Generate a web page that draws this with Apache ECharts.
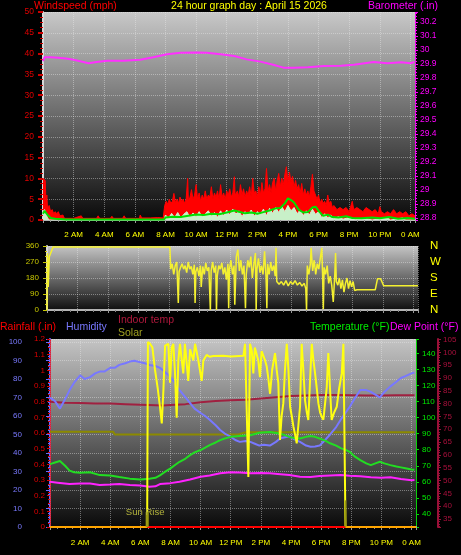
<!DOCTYPE html>
<html><head><meta charset="utf-8">
<script src="https://cdn.jsdelivr.net/npm/echarts@6/dist/echarts.min.js"></script>
<style>html,body{margin:0;padding:0;background:#000;}#c{width:461px;height:555px;}</style>
</head><body><div id="c"></div>
<script>
// ---------------- DATA ----------------
const timeTickHours = [2,4,6,8,10,12,14,16,18,20,22,24];
const timeTickLabels = ['2 AM','4 AM','6 AM','8 AM','10 AM','12 PM','2 PM','4 PM','6 PM','8 PM','10 PM','0 AM'];
const windTicks = [0,5,10,15,20,25,30,35,40,45,50];
const baroTicks = [28.8,28.9,29,29.1,29.2,29.3,29.4,29.5,29.6,29.7,29.8,29.9,30,30.1,30.2];
const dirTicks = [0,90,180,270,360];
const dirLetters = ['N','E','S','W','N'];
const humTicks = [0,10,20,30,40,50,60,70,80,90,100];
const rainTicks = [0,0.1,0.2,0.3,0.4,0.5,0.6,0.7,0.8,0.9,1,1.1,1.2];
const tempTicks = [40,50,60,70,80,90,100,110,120,130,140];
const indoorTicks = [35,40,45,50,55,60,65,70,75,80,85,90,95,100,105];

// [hour, mph]
const windGust = [[0,10],[0.08,10],[0.15,9.5],[0.2,3],[0.25,6],[0.3,2.5],[0.4,3.5],[0.5,2],[0.6,2.5],[0.7,1.5],[0.8,2],[0.9,1.5],[1.0,2],[1.1,1],[1.3,1.2],[1.4,0.4],[2.0,0.4],[2.5,1],[2.6,0.4],[3.5,0.4],[3.6,1],[3.7,0.4],[4.4,0.4],[4.5,0.9],[4.6,0.4],[5.2,0.4],[5.3,1],[5.4,0.4],[6.3,0.4],[6.35,1.2],[6.45,0.5],[7.0,0.5],[7.5,0.6],[7.85,0.5],[7.95,3.5],[8.05,4.5],[8.15,3.8],[8.25,5],[8.35,4],[8.45,4.5],[8.55,6.4],[8.65,4.2],[8.75,5],[8.85,4],[8.95,5.5],[9.05,4.5],[9.15,5],[9.25,4],[9.35,5],[9.45,10],[9.5,4.5],[9.6,5.5],[9.7,7.3],[9.8,5],[9.9,6],[10.0,8.5],[10.1,5],[10.2,6.5],[10.3,4.5],[10.4,6],[10.5,5],[10.6,7],[10.7,5],[10.8,6],[10.9,5.5],[11.0,8],[11.1,5],[11.2,6.5],[11.3,5.5],[11.4,7],[11.5,5],[11.6,8.5],[11.7,5.5],[11.8,6.5],[11.9,5],[12.0,7],[12.1,6],[12.2,7.5],[12.3,5.5],[12.4,6.5],[12.5,10.4],[12.55,6],[12.7,7],[12.8,5.5],[12.9,8.5],[13.0,6],[13.1,7.5],[13.2,5.5],[13.3,7],[13.4,6],[13.5,8],[13.6,5.5],[13.7,10],[13.8,6.5],[13.9,7],[14.0,5.5],[14.1,8],[14.2,6],[14.3,9],[14.4,6.5],[14.5,7.5],[14.6,12.4],[14.7,7],[14.8,8.5],[14.9,6.5],[15.0,9],[15.1,10],[15.2,7],[15.3,9.5],[15.4,11.2],[15.5,8],[15.6,10],[15.7,8.5],[15.8,11],[15.9,12.8],[16.0,9],[16.1,11.5],[16.2,9],[16.3,10.5],[16.4,8],[16.5,9.5],[16.6,7.5],[16.7,8.5],[16.8,6.5],[16.9,8.8],[17.0,6],[17.1,7.5],[17.2,6],[17.3,7],[17.4,5.5],[17.5,8],[17.6,11],[17.7,7],[17.8,6],[17.9,5],[18.0,6],[18.1,4],[18.2,5],[18.3,4],[18.4,4.5],[18.5,3.5],[18.6,6],[18.7,4],[18.8,4.5],[18.9,3],[19.0,3.5],[19.2,2.5],[19.4,3],[19.6,2.5],[19.8,3],[20.0,2],[20.2,4.5],[20.3,2.5],[20.5,3],[20.7,2.5],[20.9,2],[21.1,3],[21.3,2.5],[21.5,2],[21.7,2.5],[21.9,1.5],[22.0,3.2],[22.1,2],[22.3,1.5],[22.5,2],[22.7,1.5],[22.9,2.5],[23.1,1.5],[23.3,2],[23.5,1.5],[23.7,2],[23.9,1],[24.1,1.5],[24.3,1]];

const windSpeed = [[0,2],[0.1,2.5],[0.2,1.5],[0.3,0.5],[0.4,0],[7.9,0],[8.0,1.2],[8.2,0.4],[8.4,1.6],[8.6,0.6],[8.8,1.8],[9.0,0.5],[9.2,1.4],[9.4,2.0],[9.6,0.6],[9.8,1.7],[10.0,0.8],[10.2,2.0],[10.4,0.7],[10.6,1.5],[10.8,2.2],[11.0,0.9],[11.2,1.8],[11.4,0.6],[11.6,2.2],[11.8,1.0],[12.0,2.4],[12.2,1.2],[12.4,2.6],[12.6,1.4],[12.8,2.2],[13.0,0.8],[13.2,2.0],[13.4,1.2],[13.6,2.4],[13.8,0.9],[14.0,2.0],[14.2,1.4],[14.4,2.6],[14.6,1.0],[14.8,2.8],[15.0,1.6],[15.2,3.0],[15.4,1.8],[15.6,3.2],[15.8,2.0],[16.0,3.5],[16.2,2.2],[16.4,3.0],[16.6,1.5],[16.8,2.4],[17.0,1.0],[17.2,2.2],[17.4,1.2],[17.6,2.6],[17.8,1.4],[18.0,2.0],[18.2,0.6],[18.4,1.5],[18.6,0.5],[18.8,1.2],[19.0,0.3],[19.3,0.8],[19.6,0.2],[20.0,0.6],[20.4,0.1],[21.0,0.4],[21.5,0],[22.5,0.6],[22.7,0],[23.5,0.5],[23.7,0],[24.3,0]];

const windAvg = [[0,1.5],[0.1,2.2],[0.2,2],[0.3,1.2],[0.5,0.5],[0.8,0.3],[1.5,0.1],[7.9,0.1],[8.0,0.6],[8.5,0.8],[9.0,0.7],[9.5,1.0],[10.0,1.3],[10.5,1.2],[11.0,1.5],[11.5,1.4],[12.0,1.8],[12.5,2.3],[12.8,2.0],[13.2,1.6],[13.6,1.8],[14.0,1.5],[14.4,1.9],[14.8,2.3],[15.2,2.8],[15.5,2.9],[15.8,4.0],[16.0,5.2],[16.2,4.8],[16.4,4.2],[16.7,2.5],[17.0,1.8],[17.3,1.9],[17.6,3.0],[17.8,3.2],[18.0,2.2],[18.3,1.0],[18.6,1.3],[18.9,0.7],[19.3,0.6],[19.8,0.9],[20.2,0.5],[20.8,0.4],[21.5,0.6],[22.0,0.4],[22.6,0.7],[23.2,0.3],[23.8,0.5],[24.3,0.3]];

// [hour, inHg]
const barometer = [[0,29.92],[0.1,29.948],[0.5,29.948],[1.0,29.945],[1.5,29.94],[2.0,29.93],[2.5,29.918],[2.97,29.905],[3.5,29.915],[4.2,29.924],[5.26,29.924],[6.35,29.93],[7.2,29.948],[8.1,29.97],[9.0,29.98],[10.06,29.983],[10.7,29.98],[11.6,29.97],[12.5,29.957],[13.3,29.933],[14.2,29.917],[15.1,29.893],[15.7,29.874],[16.4,29.874],[17.3,29.876],[18.36,29.886],[19.45,29.888],[20.3,29.895],[21.6,29.914],[22.5,29.905],[23.4,29.912],[24.0,29.905],[24.25,29.914]];

// [hour, degrees]
const windDir = [[0,0],[0.03,320],[0.08,130],[0.15,300],[0.25,290],[0.4,355],[8.05,355],[8.1,230],[8.2,260],[8.3,200],[8.4,250],[8.5,270],[8.6,40],[8.65,215],[8.75,240],[8.85,260],[8.95,230],[9.05,250],[9.15,210],[9.25,270],[9.35,230],[9.45,245],[9.55,200],[9.65,255],[9.7,40],[9.75,215],[9.85,240],[9.95,190],[10.05,250],[10.1,130],[10.2,245],[10.3,200],[10.4,265],[10.5,220],[10.6,240],[10.7,0],[10.75,220],[10.85,270],[10.95,210],[11.05,250],[11.1,0],[11.15,190],[11.25,250],[11.35,230],[11.45,265],[11.55,200],[11.65,240],[11.75,170],[11.85,260],[11.9,10],[11.95,230],[12.05,280],[12.15,200],[12.25,250],[12.3,30],[12.4,300],[12.5,340],[12.6,220],[12.7,280],[12.8,200],[12.9,250],[13.0,10],[13.05,200],[13.15,280],[13.25,240],[13.35,300],[13.45,180],[13.55,260],[13.65,320],[13.7,0],[13.75,230],[13.85,290],[13.95,210],[14.05,250],[14.15,200],[14.25,330],[14.35,180],[14.4,10],[14.45,260],[14.55,200],[14.65,270],[14.75,220],[14.85,250],[14.95,190],[15.0,350],[15.05,160],[15.2,145],[15.35,160],[15.5,140],[15.65,165],[15.8,135],[15.95,160],[16.1,145],[16.25,165],[16.4,140],[16.55,155],[16.7,135],[16.85,150],[16.95,120],[17.0,0],[17.05,250],[17.15,200],[17.25,260],[17.3,350],[17.4,220],[17.5,280],[17.6,200],[17.7,260],[17.8,230],[17.9,290],[18.0,350],[18.05,200],[18.1,5],[18.15,240],[18.25,200],[18.35,250],[18.45,150],[18.55,190],[18.65,140],[18.75,45],[18.85,200],[18.9,320],[18.95,160],[19.05,140],[19.15,180],[19.25,120],[19.35,170],[19.45,100],[19.55,150],[19.65,180],[19.75,120],[19.85,165],[19.95,130],[20.05,160],[20.15,110],[20.3,114],[21.5,114],[21.65,176],[21.85,176],[22.05,136],[24.3,136]];

// [hour, %]
const humidity = [[0,70],[0.33,68],[0.66,64],[1.0,69],[1.3,74],[1.6,78],[2.0,82],[2.3,80],[2.66,81],[3.0,83],[3.3,84],[3.6,84],[4.0,86],[4.3,86],[4.6,87.6],[5.0,88.5],[5.3,89.4],[5.6,89.8],[6.0,89],[6.3,88.5],[6.6,87.6],[7.0,87],[7.3,86],[7.6,84],[8.0,81],[8.3,78],[8.6,74],[9.0,70],[9.3,67],[9.6,64],[10,61.6],[10.3,60],[10.6,58],[11.0,55],[11.3,52.4],[11.6,50.5],[12.0,48.8],[12.3,47],[12.6,46],[13.0,46.5],[13.3,46],[13.6,45],[13.9,44],[14.2,44.5],[14.6,44],[15.0,46],[15.3,48],[15.6,48.5],[15.9,49],[16.2,47.5],[16.6,46],[17.0,44],[17.3,43.4],[17.6,43.5],[17.9,44],[18.2,46.5],[18.6,50],[19.0,54],[19.3,58],[19.6,61.5],[19.9,65],[20.2,69],[20.6,74],[21.0,74],[21.3,73],[21.6,71.5],[21.9,70],[22.2,73],[22.6,76],[23.0,78.5],[23.3,80.5],[23.6,81.5],[24.0,83],[24.2,83.5]];

// [hour, °F]
const temperature = [[0,71],[0.33,72],[0.66,73],[1.0,70],[1.3,67],[1.6,66],[2.0,65.7],[2.66,66],[3.3,64.2],[4.0,64],[4.6,63],[5.3,62],[6.0,61.5],[6.6,62],[7.0,62.5],[7.3,64],[7.6,66],[8.0,68.4],[8.3,70.5],[8.6,72.5],[9.0,74.5],[9.3,76.6],[9.6,78.3],[10,79.8],[10.3,81.3],[10.6,82.9],[11,84.5],[11.3,86],[11.6,87],[12,88],[12.6,88.5],[13.3,89],[13.9,90.5],[14.6,91],[15.3,90],[15.9,88],[16.3,87],[16.6,87],[17.0,88],[17.3,88.5],[17.6,88],[17.9,87],[18.3,85.5],[18.6,84],[19.0,82.5],[19.3,81],[19.6,80],[19.9,78.7],[20.2,76],[20.6,73.5],[21.0,71.5],[21.3,70.4],[21.6,71.5],[21.9,72.5],[22.2,71.5],[22.6,70.4],[23.0,69.5],[23.3,69],[23.6,68.5],[24.0,67.7],[24.2,67.5]];

const dewPoint = [[0,60],[0.5,59.5],[1.3,58.6],[2.0,59],[2.66,59],[3.3,58],[4.0,58.3],[4.6,58.6],[5.3,58],[6.0,57.7],[6.6,57],[7.0,57.2],[7.3,58.6],[8.0,59.2],[8.6,60],[9.3,61.5],[10,63.2],[10.6,64],[11.3,65.3],[12,66],[12.6,65.8],[13.3,65.3],[14.0,65.5],[14.6,65.3],[15.3,64.8],[15.9,64.2],[16.6,63.2],[17.3,63],[17.9,63.6],[18.6,64],[19.3,64.2],[19.9,63.8],[20.6,63.5],[21.3,62.8],[22.0,62.5],[22.6,62.8],[23.3,61.8],[24.0,61],[24.2,61.2]];

const indoorTemp = [[0,80.7],[1,80.3],[2,80.2],[3,80],[4,80],[5,79.8],[6,79.6],[7,79.4],[7.5,79.3],[8,79.5],[9,79.8],[10,80.5],[11,81],[12,81.3],[13,81.5],[14,82],[15,82.5],[16,83],[17,83.2],[18,83.4],[19,83.4],[20,83.3],[21,83.2],[22,83.2],[23,83.3],[24.2,83.3]];

const oliveLine = [[0,69],[4.2,69],[4.3,68],[12.5,68],[13,68.8],[24.2,68.8]];

// solar, in % of panel height
const solar = [[0,0],[6.45,0],[6.5,100],[6.64,99],[6.8,97],[6.97,85],[7.15,75],[7.30,65],[7.42,56],[7.53,74],[7.64,98],[7.86,99],[7.97,78],[8.08,97],[8.19,99],[8.30,83],[8.41,59],[8.52,90],[8.63,99],[8.75,90],[8.85,83],[8.96,99],[9.18,79],[9.30,96],[9.52,90],[9.63,99],[9.85,90],[10.07,79],[10.18,90],[10.40,93],[10.6,92],[10.85,92.4],[11.5,92.5],[12,92.2],[12.84,92.5],[12.95,99],[13.05,99],[13.17,27],[13.28,99],[13.4,95],[13.50,83],[13.6,97],[13.72,97.5],[13.83,90],[13.94,81],[14.05,95],[14.17,95.7],[14.28,90],[14.39,86.7],[14.5,80],[14.61,72],[14.75,85],[14.94,94],[15.05,85],[15.16,77.7],[15.27,47],[15.38,60],[15.49,66.8],[15.6,85],[15.72,99],[15.83,85],[15.94,65],[16.05,60],[16.16,54.3],[16.27,50],[16.38,45.2],[16.49,55],[16.60,65],[16.71,99],[16.82,85],[16.93,68.6],[17.05,62],[17.15,57.8],[17.27,80],[17.38,99],[17.49,90],[17.60,83],[17.71,75],[17.82,66.8],[17.93,62],[18.04,59.6],[18.15,58],[18.26,57.8],[18.37,75],[18.48,94],[18.59,75],[18.70,57.8],[18.87,62],[19.04,65],[19.2,75],[19.37,83],[19.48,99],[19.59,99],[19.62,0],[24.2,0]];

const rainfall = [[0,0],[24.3,0]];
const sunriseHour = 6.45;
const sunsetHour = 19.62;

// ---------------- CHART ----------------
const FONT = '"Liberation Sans", Arial, sans-serif';
const chart = echarts.init(document.getElementById('c'), null, {renderer: 'canvas', width: 461, height: 555});
const grad = (a, b) => new echarts.graphic.LinearGradient(0, 0, 0, 1, [{offset: 0, color: a}, {offset: 1, color: b}]);
const fmtList = list => v => { for (const t of list) if (Math.abs(v - t) < 1e-6) return String(t); return ''; };
const hourFmt = v => { const i = timeTickHours.findIndex(h => Math.abs(h - v) < 1e-6); return i < 0 ? '' : timeTickLabels[i]; };
const gridLine = {show: true, lineStyle: {color: 'rgba(235,235,235,0.42)', type: 'dotted', width: 1}};

function xAx(gi, showLabel, margin) {
  return {
    type: 'value', gridIndex: gi, min: 0, max: 24.3, interval: 2,
    axisLine: {show: true, onZero: false, lineStyle: {color: '#b4b4b4', width: 2}},
    axisTick: {show: true, length: 3, lineStyle: {color: '#9a9a9a'}},
    minorTick: {show: true, splitNumber: 4, length: 2, lineStyle: {color: '#888'}},
    axisLabel: {show: showLabel, color: '#ffff00', fontSize: 8, fontFamily: FONT, margin: margin, formatter: hourFmt, hideOverlap: false, showMinLabel: true, showMaxLabel: true},
    splitLine: gridLine
  };
}
function lbl(color, margin, list, size) {
  return {show: true, color: color, fontSize: size || 8, fontFamily: FONT, margin: margin, formatter: fmtList(list), hideOverlap: false, showMinLabel: true, showMaxLabel: true};
}

const option = {
  backgroundColor: '#000',
  animation: false,
  grid: [
    {left: 43, right: 46, top: 12, height: 208, show: true, borderWidth: 0, backgroundColor: grad('#c8c8c8', '#0a0a0a'), outerBoundsMode: 'none'},
    {left: 47, right: 43, top: 246, height: 64, show: true, borderWidth: 0, backgroundColor: grad('#c4c4c4', '#101010'), outerBoundsMode: 'none'},
    {left: 50, right: 45, top: 339, height: 188, show: true, borderWidth: 0, backgroundColor: grad('#c4c4c4', '#0a0a0a'), outerBoundsMode: 'none'}
  ],
  xAxis: [xAx(0, true, 11), xAx(1, false, 8), xAx(2, true, 12)],
  yAxis: [
    { // 0 wind
      type: 'value', gridIndex: 0, position: 'left', min: 0, max: 50, interval: 5,
      axisLine: {show: true, lineStyle: {color: '#d8d8d8', width: 2}},
      axisTick: {show: true, length: 5, lineStyle: {color: '#cc0000', width: 2}},
      minorTick: {show: true, splitNumber: 4, length: 3, lineStyle: {color: '#cc0000', width: 1}},
      axisLabel: lbl('#e00000', 9, windTicks, 8.5),
      splitLine: gridLine
    },
    { // 1 barometer
      type: 'value', gridIndex: 0, position: 'right', min: 28.7857, max: 30.2714, splitNumber: 15,
      axisLine: {show: true, lineStyle: {color: '#ff00ff', width: 1, type: 'dotted'}},
      axisTick: {show: true, length: 3, lineStyle: {color: '#ff00ff'}},
      minorTick: {show: true, splitNumber: 5, length: 2, lineStyle: {color: '#ff00ff'}},
      axisLabel: lbl('#ff00ff', 5, baroTicks, 8.5),
      splitLine: {show: false}
    },
    { // 2 wind direction
      type: 'value', gridIndex: 1, position: 'left', min: 0, max: 360, interval: 90,
      axisLine: {show: true, lineStyle: {color: '#d8d8d8', width: 2}},
      axisTick: {show: true, length: 4, lineStyle: {color: '#c8c800'}},
      minorTick: {show: true, splitNumber: 3, length: 2, lineStyle: {color: '#c8c800'}},
      axisLabel: lbl('#c8c800', 8, dirTicks, 8),
      splitLine: gridLine
    },
    { // 3 compass letters
      type: 'value', gridIndex: 1, position: 'right', min: 0, max: 360, interval: 90,
      axisLine: {show: false}, axisTick: {show: false}, splitLine: {show: false},
      axisLabel: {show: true, color: '#ffff00', fontSize: 11.5, fontFamily: FONT, margin: 12, hideOverlap: false,
        formatter: v => { const i = dirTicks.findIndex(t => Math.abs(t - v) < 1e-6); return i < 0 ? '' : dirLetters[i]; }}
    },
    { // 4 humidity
      type: 'value', gridIndex: 2, position: 'left', offset: 20, min: 0, max: 101.6, interval: 10,
      axisLine: {show: true, lineStyle: {color: '#6a6aff', width: 2}},
      axisTick: {show: true, length: 4, lineStyle: {color: '#6a6aff'}},
      minorTick: {show: true, splitNumber: 4, length: 2, lineStyle: {color: '#6a6aff'}},
      axisLabel: lbl('#7a7aff', 8, humTicks, 8),
      splitLine: gridLine
    },
    { // 5 rainfall
      type: 'value', gridIndex: 2, position: 'left', offset: 0, min: 0, max: 1.2, interval: 0.1,
      axisLine: {show: true, lineStyle: {color: '#ee2222', width: 1, type: 'dotted'}},
      axisTick: {show: true, length: 3, lineStyle: {color: '#dd0000'}},
      minorTick: {show: true, splitNumber: 4, length: 2, lineStyle: {color: '#dd0000'}},
      axisLabel: lbl('#dd0000', 5, rainTicks, 8),
      splitLine: {show: false}
    },
    { // 6 temperature / dew point
      type: 'value', gridIndex: 2, position: 'right', offset: 0, min: 31.9, max: 148.9, splitNumber: 12,
      axisLine: {show: true, lineStyle: {color: '#00dd00', width: 1, type: 'dotted'}},
      axisTick: {show: true, length: 3, lineStyle: {color: '#00dd00'}},
      minorTick: {show: true, splitNumber: 5, length: 1, lineStyle: {color: '#00dd00'}},
      axisLabel: lbl('#00ee00', 6, tempTicks, 8),
      splitLine: {show: false}
    },
    { // 7 indoor temp
      type: 'value', gridIndex: 2, position: 'right', offset: 22, min: 31.88, max: 105.2, splitNumber: 15,
      axisLine: {show: true, lineStyle: {color: '#9a1038', width: 2}},
      axisTick: {show: true, length: 3, lineStyle: {color: '#9a1038'}},
      minorTick: {show: true, splitNumber: 5, length: 2, lineStyle: {color: '#9a1038'}},
      axisLabel: lbl('#a8103c', 5, indoorTicks, 8),
      splitLine: {show: false}
    }
  ],
  graphic: [
    {type: 'text', x: 34, y: 6, style: {text: 'Windspeed (mph)', fill: '#ff0000', font: '10.5px ' + FONT, verticalAlign: 'middle', align: 'left'}},
    {type: 'text', x: 249, y: 6, style: {text: '24 hour graph day : April 15 2026', fill: '#ffff00', font: '10.5px ' + FONT, verticalAlign: 'middle', align: 'center'}},
    {type: 'text', x: 368, y: 6, style: {text: 'Barometer (.in)', fill: '#ff00ff', font: '10.5px ' + FONT, verticalAlign: 'middle', align: 'left'}},
    {type: 'text', x: 0, y: 327, style: {text: 'Rainfall (.in)', fill: '#ff0000', font: '10.5px ' + FONT, verticalAlign: 'middle', align: 'left'}},
    {type: 'text', x: 66, y: 327, style: {text: 'Humidity', fill: '#7878ff', font: '10.5px ' + FONT, verticalAlign: 'middle', align: 'left'}},
    {type: 'text', x: 118, y: 320, style: {text: 'Indoor temp', fill: '#b0183c', font: '10.5px ' + FONT, verticalAlign: 'middle', align: 'left'}},
    {type: 'text', x: 118, y: 333, style: {text: 'Solar', fill: '#a0a020', font: '10.5px ' + FONT, verticalAlign: 'middle', align: 'left'}},
    {type: 'text', x: 310, y: 327, style: {text: 'Temperature (°F)', fill: '#00ee00', font: '10.5px ' + FONT, verticalAlign: 'middle', align: 'left'}},
    {type: 'text', x: 390, y: 327, style: {text: 'Dew Point (°F)', fill: '#ff00ff', font: '10.5px ' + FONT, verticalAlign: 'middle', align: 'left'}}
  ],
  series: [
    {name: 'Gust', type: 'line', xAxisIndex: 0, yAxisIndex: 0, data: windGust, showSymbol: false, clip: true,
     lineStyle: {color: '#ff0000', width: 1}, areaStyle: {color: '#ff0000', opacity: 1}, z: 2},
    {name: 'Wind speed', type: 'line', xAxisIndex: 0, yAxisIndex: 0, data: windSpeed, showSymbol: false, clip: true,
     lineStyle: {color: '#d0f4d0', width: 1}, areaStyle: {color: '#c8f0c8', opacity: 1}, z: 3},
    {name: 'Wind avg', type: 'line', xAxisIndex: 0, yAxisIndex: 0, data: windAvg, showSymbol: false, clip: true,
     lineStyle: {color: '#00e000', width: 2}, z: 4},
    {name: 'Barometer', type: 'line', xAxisIndex: 0, yAxisIndex: 1, data: barometer, showSymbol: false, clip: true,
     lineStyle: {color: '#ff30ff', width: 2}, z: 5},
    {name: 'Direction', type: 'line', xAxisIndex: 1, yAxisIndex: 2, data: windDir, showSymbol: false, clip: true,
     lineStyle: {color: '#f4f030', width: 1.5}, z: 3},
    {name: 'Solar', type: 'line', xAxisIndex: 2, yAxisIndex: 7, data: oliveLine, showSymbol: false, clip: true,
     lineStyle: {color: '#8c8a00', width: 2}, z: 2},
    {name: 'Indoor temp', type: 'line', xAxisIndex: 2, yAxisIndex: 7, data: indoorTemp, showSymbol: false, clip: true,
     lineStyle: {color: '#a02040', width: 2}, z: 3},
    {name: 'Humidity', type: 'line', xAxisIndex: 2, yAxisIndex: 4, data: humidity, showSymbol: false, clip: true,
     lineStyle: {color: '#7878ff', width: 2}, z: 3},
    {name: 'Dew Point', type: 'line', xAxisIndex: 2, yAxisIndex: 6, data: dewPoint, showSymbol: false, clip: true,
     lineStyle: {color: '#ff22ff', width: 2}, z: 3},
    {name: 'Temperature', type: 'line', xAxisIndex: 2, yAxisIndex: 6, data: temperature, showSymbol: false, clip: true,
     lineStyle: {color: '#22dd22', width: 2}, z: 3},
    {name: 'Solar radiation', type: 'line', xAxisIndex: 2, yAxisIndex: 4, data: solar, showSymbol: false, clip: true,
     lineStyle: {color: '#ffff10', width: 2}, z: 4},
    {name: 'Rainfall', type: 'line', xAxisIndex: 2, yAxisIndex: 5, data: rainfall, showSymbol: false, clip: false,
     lineStyle: {color: '#ff0000', width: 2}, z: 5},
    {name: 'Night', type: 'line', xAxisIndex: 2, yAxisIndex: 5, clip: false,
     data: [[0, 0], [sunriseHour, 0], '-', [sunsetHour, 0], [24.3, 0]], showSymbol: false, connectNulls: false,
     lineStyle: {color: '#ffa500', width: 2}, z: 6},
    {name: 'Sun rise', type: 'line', xAxisIndex: 2, yAxisIndex: 5, showSymbol: true, symbolSize: 0, clip: false,
     data: [[sunriseHour, 0], {value: [sunriseHour, 0.095], label: {show: true, formatter: 'Sun Rise', position: 'top', distance: 0, offset: [-2, 5], color: '#b4b43c', fontSize: 9.5, fontFamily: FONT}}],
     lineStyle: {color: '#9a9a10', width: 3}, z: 6},
    {name: 'Sun set', type: 'line', xAxisIndex: 2, yAxisIndex: 5, showSymbol: false, clip: false,
     data: [[sunsetHour, 0], [sunsetHour, 0.17]],
     lineStyle: {color: '#9a9a10', width: 1.5}, z: 6}
  ]
};
chart.setOption(option);
</script></body></html>
